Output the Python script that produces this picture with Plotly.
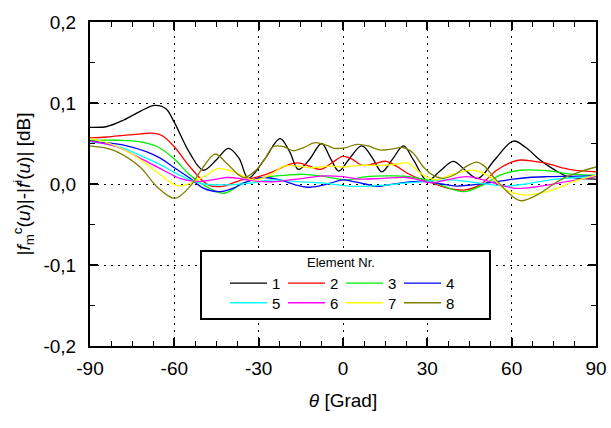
import plotly.graph_objects as go

# ---------------- data ----------------
names = ["1", "2", "3", "4", "5", "6", "7", "8"]
colors = ["#000000", "#FF0000", "#00EE00", "#0000FF", "#00FFFF", "#FF00FF", "#FFFF00", "#808000"]

theta_1 = [-90, -84, -78, -72, -67, -63, -60, -54.5, -49.7, -45, -40.8, -37, -33.7, -28, -22.4, -19, -15.9, -12,
           -7.6, -4.5, -1.5, 2, 6.7, 10.5, 13.8, 17.5, 21.5, 25, 30, 34.5, 39.2, 43.5, 48, 54, 60.6, 65, 70, 75,
           80, 85, 90]
val_1 = [0.070, 0.071, 0.079, 0.090, 0.097, 0.093, 0.076, 0.038, 0.017, 0.030, 0.044, 0.032, 0.007, 0.030, 0.056,
         0.040, 0.018, 0.030, 0.050, 0.032, 0.016, 0.030, 0.047, 0.032, 0.015, 0.030, 0.047, 0.030, 0.004, 0.016,
         0.028, 0.017, 0.007, 0.030, 0.053, 0.045, 0.030, 0.018, 0.009, 0.007, 0.006]

theta_2 = [-90, -84, -78, -72, -67, -64, -60, -54.4, -48, -43, -37, -30, -25, -20, -16, -12, -8, -4, 0, 3, 7, 11,
           15.5, 19, 23, 27, 30.4, 36, 42.8, 48.7, 54.7, 60, 63, 68, 72.5, 78, 82, 90]
val_2 = [0.057, 0.058, 0.060, 0.062, 0.0625, 0.059, 0.046, 0.021, -0.001, -0.003, 0.004, 0.009, 0.015, 0.023,
         0.026, 0.022, 0.018, 0.026, 0.034, 0.031, 0.023, 0.025, 0.028, 0.022, 0.013, 0.007, 0.003, -0.004, -0.0075,
         -0.001, 0.017, 0.027, 0.0296, 0.028, 0.0255, 0.020, 0.017, 0.015]

theta_3 = [-90, -80, -72, -66, -60.4, -54.4, -49.7, -42.6, -35.5, -28.4, -20, -14, -8, -3, 1, 8.4, 16, 22.6, 29.8,
           36, 42.8, 49.9, 55.9, 63, 72.5, 81.9, 90]
val_3 = [0.054, 0.054, 0.052, 0.046, 0.032, 0.011, -0.001, -0.0115, 0.001, 0.008, 0.011, 0.012, 0.010, 0.007,
         0.005, 0.009, 0.010, 0.0095, 0.005, -0.003, -0.0095, -0.001, 0.011, 0.017, 0.0165, 0.012, 0.011]

theta_4 = [-90, -84, -78, -70, -65, -60.4, -54.4, -49.7, -43.8, -39, -35.5, -28.4, -22.4, -17, -12.9, -8, -4.6, 0,
           3.7, 8, 12, 16, 20.3, 25, 29.8, 35, 40.4, 46, 51, 55, 60.6, 66, 72.5, 80, 90]
val_4 = [0.053, 0.051, 0.048, 0.040, 0.032, 0.021, 0.007, -0.005, -0.0095, -0.005, 0.001, 0.008, 0.005, -0.001,
         -0.004, -0.002, 0.001, 0.005, 0.003, 0.000, -0.003, -0.001, 0.001, 0.003, 0.003, 0.000, -0.0025, -0.001,
         0.001, 0.003, 0.006, 0.008, 0.009, 0.0095, 0.010]

theta_5 = [-90, -84, -78, -70, -65, -60.4, -54.4, -49.7, -44, -40.2, -33, -25, -16.5, -7, 2, 6, 12, 16.7, 22, 28.6,
           38, 48.7, 58, 65, 70, 76, 83, 90]
val_5 = [0.052, 0.049, 0.044, 0.032, 0.024, 0.015, 0.005, 0.000, -0.001, -0.001, 0.001, 0.005, 0.003, 0.001,
         -0.0025, -0.003, -0.002, -0.001, 0.001, 0.003, 0.005, 0.001, -0.0025, 0.000, 0.003, 0.006, 0.008, 0.009]

theta_6 = [-90, -80.5, -72.2, -63.9, -58, -52, -44.9, -41.4, -37, -34.3, -28, -23.6, -19, -14, -7, 0, 6, 14, 22.6,
           27, 31, 37, 44, 50, 55, 60.6, 65, 70, 79.6, 90]
val_6 = [0.053, 0.046, 0.032, 0.017, 0.007, 0.003, 0.006, 0.008, 0.007, 0.005, 0.003, 0.003, 0.005, 0.007, 0.010,
         0.009, 0.006, 0.007, 0.008, 0.005, 0.0016, 0.005, 0.009, 0.005, 0.000, -0.005, -0.005, -0.003, 0.003, 0.009]

theta_7 = [-90, -83, -74.6, -66.3, -61, -58, -55, -52, -48, -44.9, -42, -39, -35, -31.9, -26, -21, -16, -11.7,
           -4.6, 0, 6, 14, 20, 23, 26, 28.6, 33.3, 38, 42, 46.4, 52.3, 58.2, 64.2, 72.5, 78, 81.9, 90]
val_7 = [0.056, 0.050, 0.036, 0.015, 0.001, -0.0025, 0.000, 0.005, 0.012, 0.019, 0.018, 0.015, 0.009, 0.005,
         0.011, 0.022, 0.022, 0.020, 0.022, 0.021, 0.023, 0.023, 0.025, 0.026, 0.018, 0.011, 0.005, 0.011, 0.015,
         0.017, 0.009, -0.0074, -0.0136, -0.0095, -0.003, 0.003, 0.011]

theta_8 = [-90, -84, -80.5, -72.2, -66.3, -59.8, -54.4, -49.7, -45.5, -41.4, -37, -35, -31, -28, -24.8, -21, -17.7,
           -14, -10, -6, -3, 1, 5, 9, 13.2, 17, 21.5, 25, 28.6, 32, 35.7, 40, 44, 47.6, 50, 53.5, 58, 63, 70, 75,
           79.6, 85, 90]
val_8 = [0.047, 0.044, 0.040, 0.021, -0.003, -0.0177, -0.003, 0.021, 0.037, 0.0255, 0.011, 0.008, 0.017, 0.030,
         0.046, 0.046, 0.041, 0.045, 0.051, 0.048, 0.044, 0.045, 0.049, 0.047, 0.042, 0.043, 0.045, 0.038, 0.021,
         0.011, 0.007, 0.012, 0.022, 0.027, 0.023, 0.009, -0.008, -0.0206, -0.0115, 0.000, 0.009, 0.016, 0.021]

thetas = [theta_1, theta_2, theta_3, theta_4, theta_5, theta_6, theta_7, theta_8]
values = [val_1, val_2, val_3, val_4, val_5, val_6, val_7, val_8]

x_tickvals = [-90, -60, -30, 0, 30, 60, 90]
x_ticktext = ["-90", "-60", "-30", "0", "30", "60", "90"]
y_tickvals = [-0.2, -0.1, 0.0, 0.1, 0.2]
y_ticktext = ["-0,2", "-0,1", "0,0", "0,1", "0,2"]

FONT = "Arial, Liberation Sans, sans-serif"

fig = go.Figure()
for i, (nm, c, th, v) in enumerate(zip(names, colors, thetas, values)):
    fig.add_trace(go.Scatter(
        x=th, y=v, mode="lines", name=nm,
        line=dict(color=c, width=1.3, shape="spline", smoothing=1.0),
        legend="legend" if i < 4 else "legend2",
        showlegend=True,
    ))

axis_common = dict(
    showline=True, linecolor="black", linewidth=2, mirror="ticks",
    ticks="inside", ticklen=8, tickwidth=1.5, tickcolor="black",
    showgrid=True, gridcolor="black", gridwidth=1, griddash="2px,5px",
    zeroline=False,
    tickfont=dict(family=FONT, size=19, color="black"),
)

fig.update_xaxes(
    range=[-90, 90], tickmode="array", tickvals=x_tickvals, ticktext=x_ticktext,
    minor=dict(dtick=7.5, tick0=-90, ticks="inside", ticklen=5, tickwidth=1.2, tickcolor="black", showgrid=False),
    title=dict(text="<i>θ</i> [Grad]", font=dict(family=FONT, size=19, color="black"), standoff=16),
    ticklabelstandoff=4,
    **axis_common,
)
fig.update_yaxes(
    range=[-0.2, 0.2], tickmode="array", tickvals=y_tickvals, ticktext=y_ticktext,
    minor=dict(dtick=0.05, tick0=-0.2, ticks="inside", ticklen=5, tickwidth=1.2, tickcolor="black", showgrid=False),
    title=dict(text="|<i>f</i><sub>m</sub><sup>c</sup>(<i>u</i>)|-|<i>f</i><sup>i</sup>(<i>u</i>)| [dB]",
               font=dict(family=FONT, size=19, color="black"), standoff=8),
    ticklabelstandoff=8,
    **axis_common,
)

# legend frame (white box with black border)
fig.add_shape(type="rect", xref="paper", yref="paper",
              x0=(201 - 90) / 506, x1=(490 - 90) / 506, y0=(346 - 319) / 324, y1=(346 - 251) / 324,
              fillcolor="white", line=dict(color="black", width=2), layer="above")

leg_common = dict(
    orientation="h", bgcolor="rgba(0,0,0,0)", borderwidth=0,
    font=dict(family=FONT, size=15, color="black"),
    entrywidth=6, entrywidthmode="pixels", itemwidth=37,
    xanchor="left", yanchor="middle", tracegroupgap=0,
)
fig.update_layout(
    width=611, height=428,
    margin=dict(l=90, r=15, t=22, b=82, autoexpand=False),
    plot_bgcolor="white", paper_bgcolor="white",
    separators=",.",
    font=dict(family=FONT, color="black"),
    legend=dict(x=(225 - 90) / 506, y=(346 - 275) / 324,
                title=dict(text="Element Nr.", side="top center", font=dict(family=FONT, size=13, color="black")),
                **leg_common),
    legend2=dict(x=(225 - 90) / 506, y=(346 - 303) / 324, **leg_common),
)

fig.write_html("out.html")
